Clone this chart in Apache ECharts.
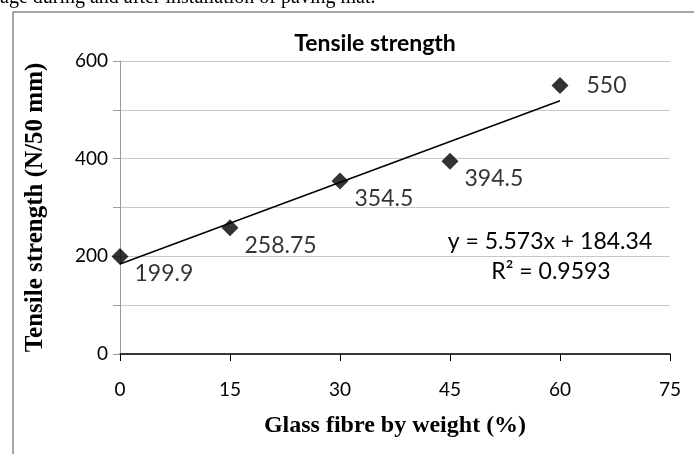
<!DOCTYPE html>
<html>
<head>
<meta charset="utf-8">
<script src="https://cdn.jsdelivr.net/npm/echarts@6/dist/echarts.min.js"></script>
<style>
  html, body { margin: 0; padding: 0; background: #fff; }
  #chart { width: 694px; height: 454px; }
</style>
</head>
<body>
<div id="chart"></div>
<script>
var fibre = [0, 15, 30, 45, 60];
var strength = [199.9, 258.75, 354.5, 394.5, 550];
var labelPos = ['below', 'below', 'below', 'below', 'right'];
var trendX = [0, 60];
var trendY = [184.34, 518.72];
var yTicks = [0, 200, 400, 600];

var chart = echarts.init(document.getElementById('chart'));

// data labels: Excel style, below-right of each marker except the last
var points = fibre.map(function (x, i) {
  var lbl = labelPos[i] === 'right'
    ? { position: 'right', distance: 18 }
    : { position: [23, 26], align: 'left', verticalAlign: 'middle' };
  return { value: [x, strength[i]], label: lbl };
});

var tickFont = { fontFamily: 'Lato', fontSize: 19, color: '#000' };

chart.setOption({
  animation: false,
  grid: { left: 120, right: 24, top: 61, bottom: 100 },
  title: {
    text: 'Tensile strength',
    left: 370, top: 27, textAlign: 'center',
    textStyle: { fontFamily: 'Lato', fontWeight: 'bold', fontSize: 23, color: '#000' }
  },
  graphic: [
    { type: 'text', left: 0, top: -12, style: { text: 'age during and after installation of paving mat.', font: '20px "Liberation Serif"', fill: '#000' } },
    { type: 'polyline', shape: { points: [[13, 454], [13, 12], [694, 12]] }, style: { stroke: '#8a8a8a', lineWidth: 1.5, fill: null } },
    { type: 'text', x: 550, y: 242, style: { text: 'y = 5.573x + 184.34', font: '23px Lato', fill: '#000', align: 'center', verticalAlign: 'middle' } },
    { type: 'text', x: 551, y: 272, style: { text: 'R² = 0.9593', font: '23px Lato', fill: '#000', align: 'center', verticalAlign: 'middle' } }
  ],
  xAxis: {
    type: 'value', min: 0, max: 75, interval: 15,
    name: 'Glass fibre by weight (%)', nameLocation: 'middle', nameGap: 60,
    nameTextStyle: { fontFamily: 'Liberation Serif', fontWeight: 'bold', fontSize: 24, color: '#000' },
    axisLine: { lineStyle: { color: '#000', width: 1.5 } },
    axisTick: { show: true, length: 7, lineStyle: { color: '#000' } },
    axisLabel: Object.assign({ margin: 26 }, tickFont),
    splitLine: { show: false }
  },
  yAxis: {
    type: 'value', min: 0, max: 600, interval: 100,
    name: 'Tensile strength (N/50 mm)', nameLocation: 'middle', nameGap: 72,
    nameTextStyle: { fontFamily: 'Liberation Serif', fontWeight: 'bold', fontSize: 25, color: '#000' },
    axisLine: { show: true, lineStyle: { color: '#9a9a9a', width: 1 } },
    axisTick: { show: true, length: 7, lineStyle: { color: '#9a9a9a' }, interval: function (i, v) { return yTicks.indexOf(+v) >= 0; } },
    axisLabel: Object.assign({
      margin: 12,
      formatter: function (v) { return yTicks.indexOf(v) >= 0 ? String(v) : ''; }
    }, tickFont),
    splitLine: { show: true, lineStyle: { color: '#c8c8c8', width: 1.2 } }
  },
  series: [
    {
      type: 'line',
      data: trendX.map(function (x, i) { return [x, trendY[i]]; }),
      symbol: 'none',
      lineStyle: { color: '#000', width: 1.5 },
      z: 2
    },
    {
      type: 'scatter',
      data: points,
      symbol: 'diamond',
      symbolSize: 17,
      itemStyle: { color: '#000' },
      label: {
        show: true,
        fontFamily: 'Lato', fontSize: 23, color: '#000',
        formatter: function (p) { return String(p.value[1]); }
      },
      z: 3
    }
  ]
});
</script>
</body>
</html>
